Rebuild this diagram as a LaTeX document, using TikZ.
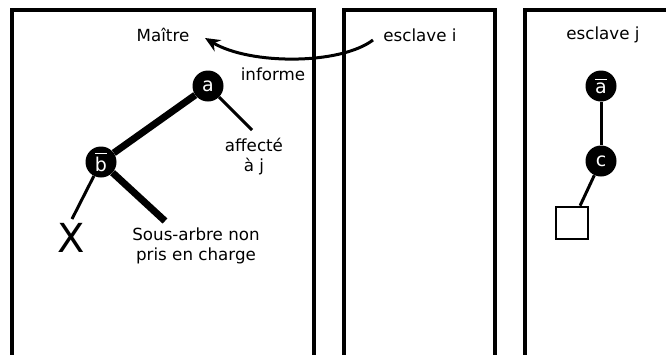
\documentclass[tikz,border=0pt]{standalone}
\usepackage{fontspec}
\setmainfont{DejaVu Sans}
\usetikzlibrary{arrows.meta}
\newcommand{\barred}[1]{\setbox0\hbox{#1}\dimen0=\ht0\advance\dimen0 by 2.5pt\rlap{\raisebox{\dimen0}{\rule{\wd0}{1.4pt}}}\box0}
\begin{document}
\begin{tikzpicture}[x=1pt,y=-1pt,
  frame/.style={line width=3.3pt},
  bn/.style={circle, fill=black, text=white, minimum size=31pt, inner sep=0pt, font=\fontsize{19}{19}\selectfont},
  lbl/.style={font=\fontsize{16.7}{20}\selectfont, align=center, inner sep=0pt},
  thickedge/.style={line width=7pt},
  thinedge/.style={line width=3pt}]
\useasboundingbox (0,0) rectangle (666,354);
% frames
\draw[frame] (12,362) -- (12,10) -- (314,10) -- (314,362);
\draw[frame] (344,362) -- (344,10) -- (495,10) -- (495,362);
\draw[frame] (525,362) -- (525,10) -- (672,10);
% titles
\node[lbl] (maitre) at (163,35) {Maître};
\node[lbl] (esi) at (420,35) {esclave i};
\node[lbl] (esj) at (603,35) {esclave j};
\node[lbl] (inf) at (273,74) {informe};
% master tree
\node[bn] (a) at (208,86) {a};
\node[bn] (b) at (101,162) {\barred{b}};
\coordinate (aff) at (252,130);
\node[lbl] (afftxt) at (254,157) {affecté\\à j};
\coordinate (sous) at (165,221);
\node[lbl] (soustxt) at (196,246) {Sous-arbre non\\pris en charge};
\coordinate (xend) at (72,219);
\node[font=\fontsize{40}{40}\selectfont, inner sep=0pt] (X) at (71,238) {X};
\draw[thickedge] (a) -- (b);
\draw[thinedge] (a) -- (aff);
\draw[thickedge] (b) -- (sous);
\draw[thinedge] (b) -- (xend);
% slave j tree
\node[bn] (abar) at (601,86) {\barred{a}};
\node[bn] (c) at (601,161) {c};
\node[draw, line width=2.6pt, minimum size=32pt, inner sep=0pt] (sq) at (572,223) {};
\draw[thinedge] (abar) -- (c);
\draw[thinedge] (c) -- (sq);
% arrow
\coordinate (arrS) at (373,40);
\coordinate (arrE) at (205,38);
\draw[thinedge, -{Stealth[length=15pt,width=13pt]}] (arrS) .. controls (340,65) and (250,65) .. (arrE);
\end{tikzpicture}
\end{document}
